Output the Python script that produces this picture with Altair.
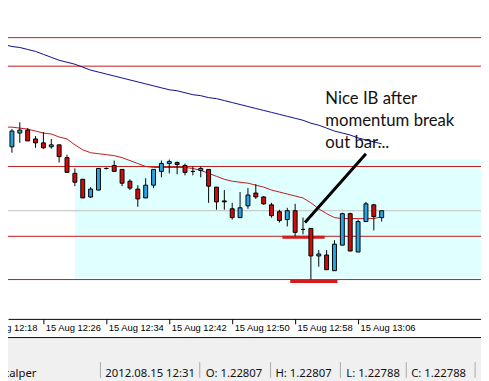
import altair as alt
import pandas as pd

# ---- data (EURUSD M1, 15 Aug 2012, bars from 12:21) ----
times = pd.date_range("2012-08-15 12:21", periods=49, freq="min")
bar_idx = list(range(49))  # minutes since 12:21
opens = [1.22845, 1.22840, 1.22854, 1.22857, 1.22848, 1.22844, 1.22840, 1.22842, 1.22829, 1.22813,
         1.22807, 1.22789, 1.22796, 1.22818, 1.22821, 1.22817, 1.22805, 1.22797, 1.22788, 1.22801,
         1.22815, 1.22823, 1.22824, 1.22821, 1.22815, 1.22816, 1.22817, 1.22799, 1.22785, 1.22777,
         1.22768, 1.22780, 1.22793, 1.22789, 1.22781, 1.22774, 1.22766, 1.22775, 1.22756, 1.22757,
         1.22729, 1.22730, 1.22714, 1.22740, 1.22772, 1.22733, 1.22764, 1.22781, 1.22768]
highs = [1.22846, 1.22858, 1.22865, 1.22859, 1.22851, 1.22855, 1.22848, 1.22842, 1.22832, 1.22818,
         1.22807, 1.22799, 1.22818, 1.22819, 1.22826, 1.22817, 1.22807, 1.22801, 1.22808, 1.22817,
         1.22826, 1.22827, 1.22825, 1.22823, 1.22820, 1.22820, 1.22817, 1.22799, 1.22796, 1.22783,
         1.22794, 1.22798, 1.22802, 1.22790, 1.22783, 1.22776, 1.22778, 1.22782, 1.22768, 1.22757,
         1.22735, 1.22735, 1.22745, 1.22773, 1.22773, 1.22766, 1.22784, 1.22782, 1.22775]
lows = [1.22838, 1.22834, 1.22844, 1.22846, 1.22839, 1.22838, 1.22838, 1.22824, 1.22814, 1.22800,
        1.22788, 1.22788, 1.22796, 1.22817, 1.22815, 1.22800, 1.22796, 1.22779, 1.22788, 1.22798,
        1.22809, 1.22813, 1.22812, 1.22811, 1.22811, 1.22809, 1.22783, 1.22776, 1.22776, 1.22766,
        1.22768, 1.22777, 1.22787, 1.22781, 1.22768, 1.22763, 1.22759, 1.22749, 1.22751, 1.22705,
        1.22718, 1.22715, 1.22714, 1.22740, 1.22734, 1.22733, 1.22764, 1.22755, 1.22764]
closes = [1.22840, 1.22856, 1.22857, 1.22846, 1.22844, 1.22839, 1.22842, 1.22830, 1.22814, 1.22804,
          1.22788, 1.22797, 1.22818, 1.22818, 1.22815, 1.22803, 1.22798, 1.22787, 1.22801, 1.22817,
          1.22823, 1.22825, 1.22822, 1.22814, 1.22815, 1.22818, 1.22800, 1.22784, 1.22784, 1.22768,
          1.22778, 1.22791, 1.22789, 1.22782, 1.22770, 1.22765, 1.22775, 1.22753, 1.22756, 1.22729,
          1.22731, 1.22715, 1.22741, 1.22772, 1.22734, 1.22764, 1.22782, 1.22769, 1.22775]
ma_fast = [1.22860, 1.22860, 1.22859, 1.22858, 1.22856, 1.22854, 1.22853, 1.22850, 1.22848, 1.22842,
           1.22837, 1.22834, 1.22833, 1.22832, 1.22831, 1.22829, 1.22826, 1.22823, 1.22820, 1.22819,
           1.22819, 1.22819, 1.22819, 1.22819, 1.22818, 1.22816, 1.22813, 1.22810, 1.22807, 1.22805,
           1.22804, 1.22803, 1.22801, 1.22799, 1.22796, 1.22794, 1.22792, 1.22790, 1.22788, 1.22783,
           1.22777, 1.22772, 1.22768, 1.22767, 1.22767, 1.22767, 1.22767, 1.22767, 1.22769]
ma_slow = [1.22944, 1.22942, 1.22941, 1.22939, 1.22937, 1.22934, 1.22931, 1.22928, 1.22926, 1.22924,
           1.22921, 1.22918, 1.22916, 1.22914, 1.22912, 1.22910, 1.22908, 1.22906, 1.22904, 1.22902,
           1.22900, 1.22898, 1.22897, 1.22895, 1.22893, 1.22892, 1.22890, 1.22889, 1.22887, 1.22885,
           1.22883, 1.22881, 1.22879, 1.22877, 1.22875, 1.22873, 1.22871, 1.22869, 1.22867, 1.22864,
           1.22862, 1.22859, 1.22856, 1.22854, 1.22852, 1.22849, 1.22847, 1.22845, 1.22843]

red_levels = [1.22951, 1.22922, 1.22820, 1.22749, 1.22705]
grey_levels = [1.22775]
box = {"k1": 9, "k2": 80, "top": 1.22827, "bottom": 1.22706}
thick_k1 = [35.375, 36.375]
thick_k2 = [40.75, 42.375]
thick_p = [1.22748, 1.22703]
arrow = {"k1": 38.25, "p1": 1.22763, "k2": 46.0, "p2": 1.22833}
note_lines = ["Nice IB after", "momentum break", "out bar..."]
note_k = 40.84
note_price = [1.22884, 1.22861, 1.22839]
axis_ticks = [5, 13, 21, 29, 37, 45]  # 12:26, 12:34, ... 13:06
cut_tick = [-3]                        # 12:18, mostly off the left edge
status_bar_idx = 10  # bar under cursor (12:31)

RED = "#d10a0a"
BLUE = "#2ba3e3"
LINE_RED = "#c01818"
LABEL_EXPR = "'15 Aug ' + timeFormat(datetime(2012, 7, 15, 12, 21 + datum.value), '%H:%M')"

candles = pd.DataFrame({"k": bar_idx, "open": opens, "high": highs,
                        "low": lows, "close": closes})
ma = pd.DataFrame({"k": bar_idx * 2, "value": ma_fast + ma_slow,
                   "ma": ["fast"] * len(bar_idx) + ["slow"] * len(bar_idx)})

xscale = alt.Scale(domain=[0.5, 60.625], nice=False, zero=False, padding=0)
yscale = alt.Scale(domain=[1.22665, 1.22978], zero=False, nice=False, padding=0)

time_axis = alt.Axis(values=axis_ticks, grid=False, labelExpr=LABEL_EXPR,
                     domainColor="black", domainWidth=1, tickColor="black",
                     tickSize=5, labelFont="Liberation Sans", labelFontSize=9.5,
                     labelColor="black", labelAlign="left", labelBaseline="top",
                     labelOffset=2, labelPadding=-1, labelOverlap=False,
                     labelFlush=False)

base_box = alt.Chart(pd.DataFrame([box])).mark_rect(color="#e0ffff", clip=True).encode(
    x=alt.X("k1:Q", scale=xscale, axis=time_axis, title=None), x2="k2:Q",
    y=alt.Y("top:Q", scale=yscale, axis=None), y2="bottom:Q")

cut_label = alt.Chart(pd.DataFrame({"value": cut_tick})).transform_calculate(
    txt=LABEL_EXPR).mark_text(font="Liberation Sans", fontSize=9.5, color="black",
                              align="left", baseline="top", dx=2).encode(
    x=alt.X("value:Q", scale=xscale, title=None), y=alt.value(317), text="txt:N")

levels = alt.Chart(pd.DataFrame({"p": red_levels})).mark_rule(color=LINE_RED, strokeWidth=1).encode(
    y=alt.Y("p:Q", scale=yscale, axis=None))
grey = alt.Chart(pd.DataFrame({"p": grey_levels})).mark_rule(color="#c0c0c0", strokeWidth=1).encode(
    y=alt.Y("p:Q", scale=yscale, axis=None))

thick = alt.Chart(pd.DataFrame({"k1": thick_k1, "k2": thick_k2, "p": thick_p})).mark_rule(
    color="#d41c1c", strokeWidth=3).encode(
    x=alt.X("k1:Q", scale=xscale, title=None), x2="k2:Q",
    y=alt.Y("p:Q", scale=yscale, axis=None))

ma_lines = alt.Chart(ma).mark_line(strokeWidth=1).encode(
    x=alt.X("k:Q", scale=xscale, title=None),
    y=alt.Y("value:Q", scale=yscale, axis=None),
    color=alt.Color("ma:N", scale=alt.Scale(domain=["fast", "slow"], range=[LINE_RED, "#0a0a8c"]),
                    legend=None))

wicks = alt.Chart(candles).mark_rule(color="black", strokeWidth=1).encode(
    x=alt.X("k:Q", scale=xscale, title=None),
    y=alt.Y("high:Q", scale=yscale, axis=None), y2="low:Q")

bodies = alt.Chart(candles).mark_bar(size=4, stroke="black", strokeWidth=1).encode(
    x=alt.X("k:Q", scale=xscale, title=None),
    y=alt.Y("open:Q", scale=yscale, axis=None), y2="close:Q",
    color=alt.condition("datum.close >= datum.open", alt.value(BLUE), alt.value(RED)))

arrow_line = alt.Chart(pd.DataFrame([arrow])).mark_rule(color="black", strokeWidth=3).encode(
    x=alt.X("k1:Q", scale=xscale, title=None), x2="k2:Q",
    y=alt.Y("p1:Q", scale=yscale, axis=None), y2="p2:Q")

note = alt.Chart(pd.DataFrame({"k": [note_k] * 3, "p": note_price, "txt": note_lines})).mark_text(
    font="Lato", fontSize=17, align="left", baseline="alphabetic", color="#111111").encode(
    x=alt.X("k:Q", scale=xscale, title=None), y=alt.Y("p:Q", scale=yscale, axis=None), text="txt:N")

# ---- window chrome below the time axis ----
dummy = pd.DataFrame({"a": [0]})
bar_bg = alt.Chart(dummy).mark_rect(color="#f0f0f0").encode(
    x=alt.value(-10), x2=alt.value(490), y=alt.value(333), y2=alt.value(380))
bar_line = alt.Chart(dummy).mark_rule(color="black", strokeWidth=1).encode(
    x=alt.value(-10), x2=alt.value(490), y=alt.value(332))

seps = [alt.Chart(dummy).mark_rule(color="#a8a8a8", strokeWidth=1).encode(
    x=alt.value(px), y=alt.value(357), y2=alt.value(373)) for px in [94, 195, 267, 338, 405, 475]]

status_texts = ["Scalper", times[status_bar_idx].strftime("%Y.%m.%d %H:%M"),
                f"O: {opens[status_bar_idx]:.5f}", f"H: {highs[status_bar_idx]:.5f}",
                f"L: {lows[status_bar_idx]:.5f}", f"C: {closes[status_bar_idx]:.5f}"]
status_x = [29, 99, 201, 272, 344, 410]
status = [alt.Chart(dummy).mark_text(font="Noto Sans", fontSize=11.5, color="#111111",
                                     align="right" if i == 0 else "left", baseline="middle").encode(
    x=alt.value(status_x[i]), y=alt.value(369), text=alt.value(t)) for i, t in enumerate(status_texts)]

chart = alt.layer(base_box, grey, levels, thick, ma_lines, wicks, bodies, arrow_line, note,
                  cut_label, bar_bg, bar_line, *seps, *status).properties(
    width=481, height=313,
    autosize=alt.AutoSizeParams(type="none"),
    padding={"left": 0, "top": 0, "right": 0, "bottom": 60},
    background="white",
).configure_view(strokeWidth=0)

chart.save("out.html", embed_options={"renderer": "svg", "actions": False})
